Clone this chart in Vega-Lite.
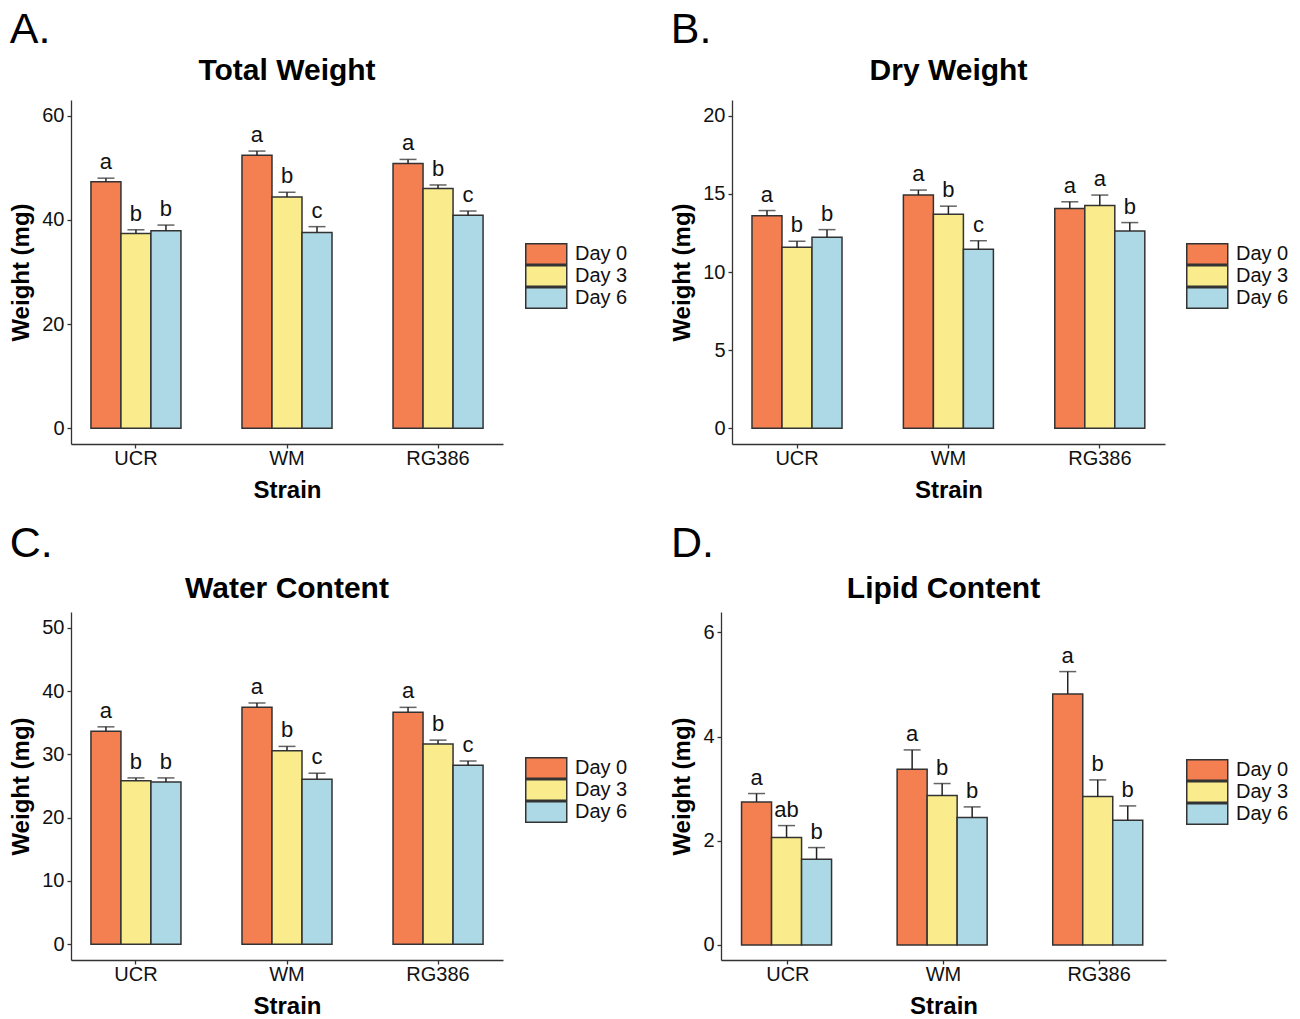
{
  "$schema": "https://vega.github.io/schema/vega-lite/v6.json",
  "padding": {"left": 9, "top": 9, "right": 5, "bottom": 5},
  "background": "white",
  "config": {
    "font": "Liberation Sans",
    "view": {"stroke": null},
    "axis": {"grid": false, "domainColor": "#333", "domainWidth": 1.3, "tickColor": "#333", "tickWidth": 1.3, "tickSize": 4, "labelFontSize": 20, "labelColor": "#111", "labelFont": "Liberation Sans", "titleFontSize": 24, "titleFontWeight": "bold", "titleColor": "#000", "titleFont": "Liberation Sans"},
    "axisX": {"labelAngle": 0, "labelPadding": 0, "titlePadding": 10},
    "axisY": {"labelPadding": 3, "titlePadding": 8},
    "title": {"font": "Liberation Sans", "color": "#000"},
    "legend": {"title": null, "orient": "none", "symbolType": "M-1,-1H3V1H-1Z", "symbolSize": 420, "symbolStrokeColor": "#333", "symbolStrokeWidth": 1.5, "symbolOpacity": 1, "labelFontSize": 20, "labelColor": "#111", "labelOffset": 28, "rowPadding": 0, "clipHeight": 22, "padding": 0}
  },
  "datasets": {
    "total": [
      {"Strain": "UCR", "Day": "Day 0", "mean": 47.3, "upper": 48.0, "letter": "a"},
      {"Strain": "UCR", "Day": "Day 3", "mean": 37.4, "upper": 38.1, "letter": "b"},
      {"Strain": "UCR", "Day": "Day 6", "mean": 37.9, "upper": 39.0, "letter": "b"},
      {"Strain": "WM", "Day": "Day 0", "mean": 52.4, "upper": 53.2, "letter": "a"},
      {"Strain": "WM", "Day": "Day 3", "mean": 44.4, "upper": 45.3, "letter": "b"},
      {"Strain": "WM", "Day": "Day 6", "mean": 37.6, "upper": 38.7, "letter": "c"},
      {"Strain": "RG386", "Day": "Day 0", "mean": 50.8, "upper": 51.6, "letter": "a"},
      {"Strain": "RG386", "Day": "Day 3", "mean": 46.0, "upper": 46.7, "letter": "b"},
      {"Strain": "RG386", "Day": "Day 6", "mean": 40.9, "upper": 41.7, "letter": "c"}
    ],
    "dry": [
      {"Strain": "UCR", "Day": "Day 0", "mean": 13.59, "upper": 13.93, "letter": "a"},
      {"Strain": "UCR", "Day": "Day 3", "mean": 11.58, "upper": 11.96, "letter": "b"},
      {"Strain": "UCR", "Day": "Day 6", "mean": 12.22, "upper": 12.71, "letter": "b"},
      {"Strain": "WM", "Day": "Day 0", "mean": 14.92, "upper": 15.24, "letter": "a"},
      {"Strain": "WM", "Day": "Day 3", "mean": 13.70, "upper": 14.21, "letter": "b"},
      {"Strain": "WM", "Day": "Day 6", "mean": 11.45, "upper": 12.00, "letter": "c"},
      {"Strain": "RG386", "Day": "Day 0", "mean": 14.06, "upper": 14.49, "letter": "a"},
      {"Strain": "RG386", "Day": "Day 3", "mean": 14.25, "upper": 14.92, "letter": "a"},
      {"Strain": "RG386", "Day": "Day 6", "mean": 12.63, "upper": 13.16, "letter": "b"}
    ],
    "water": [
      {"Strain": "UCR", "Day": "Day 0", "mean": 33.66, "upper": 34.35, "letter": "a"},
      {"Strain": "UCR", "Day": "Day 3", "mean": 25.81, "upper": 26.28, "letter": "b"},
      {"Strain": "UCR", "Day": "Day 6", "mean": 25.65, "upper": 26.28, "letter": "b"},
      {"Strain": "WM", "Day": "Day 0", "mean": 37.43, "upper": 38.12, "letter": "a"},
      {"Strain": "WM", "Day": "Day 3", "mean": 30.58, "upper": 31.26, "letter": "b"},
      {"Strain": "WM", "Day": "Day 6", "mean": 26.07, "upper": 27.02, "letter": "c"},
      {"Strain": "RG386", "Day": "Day 0", "mean": 36.65, "upper": 37.43, "letter": "a"},
      {"Strain": "RG386", "Day": "Day 3", "mean": 31.62, "upper": 32.25, "letter": "b"},
      {"Strain": "RG386", "Day": "Day 6", "mean": 28.27, "upper": 28.95, "letter": "c"}
    ],
    "lipid": [
      {"Strain": "UCR", "Day": "Day 0", "mean": 2.745, "upper": 2.905, "letter": "a"},
      {"Strain": "UCR", "Day": "Day 3", "mean": 2.06, "upper": 2.29, "letter": "ab"},
      {"Strain": "UCR", "Day": "Day 6", "mean": 1.644, "upper": 1.868, "letter": "b"},
      {"Strain": "WM", "Day": "Day 0", "mean": 3.372, "upper": 3.743, "letter": "a"},
      {"Strain": "WM", "Day": "Day 3", "mean": 2.866, "upper": 3.097, "letter": "b"},
      {"Strain": "WM", "Day": "Day 6", "mean": 2.444, "upper": 2.649, "letter": "b"},
      {"Strain": "RG386", "Day": "Day 0", "mean": 4.818, "upper": 5.246, "letter": "a"},
      {"Strain": "RG386", "Day": "Day 3", "mean": 2.847, "upper": 3.167, "letter": "b"},
      {"Strain": "RG386", "Day": "Day 6", "mean": 2.393, "upper": 2.668, "letter": "b"}
    ]
  },
  "resolve": {"scale": {"color": "independent"}, "legend": {"color": "independent"}},
  "spacing": 21,
  "vconcat": [
    {
      "resolve": {"scale": {"color": "independent"}, "legend": {"color": "independent"}},
      "spacing": 42,
      "hconcat": [
        {
          "title": {"text": "A.", "anchor": "start", "frame": "bounds", "fontSize": 43, "fontWeight": "normal", "offset": 4},
          "resolve": {"scale": {"color": "independent"}, "legend": {"color": "independent"}},
          "vconcat": [
            {
              "width": 432, "height": 344,
              "title": {"text": "Total Weight", "fontSize": 30, "fontWeight": "bold", "offset": 14},
              "data": {"name": "total"},
              "encoding": {
                "x": {"field": "Strain", "type": "nominal", "sort": ["UCR", "WM", "RG386"], "title": "Strain", "scale": {"paddingInner": 0.404, "paddingOuter": 0.132}},
                "xOffset": {"field": "Day", "type": "nominal", "sort": ["Day 0", "Day 3", "Day 6"], "scale": {"paddingInner": 0, "paddingOuter": 0}}
              },
              "layer": [
                {"mark": {"type": "bar", "stroke": "#333", "strokeWidth": 1.5},
                 "encoding": {"y": {"field": "mean", "type": "quantitative", "title": "Weight (mg)", "scale": {"domain": [-3, 63], "nice": false, "zero": false}, "axis": {"values": [0, 20, 40, 60]}}, "y2": {"datum": 0},
                   "color": {"field": "Day", "type": "nominal", "scale": {"domain": ["Day 0", "Day 3", "Day 6"], "range": ["#F47F51", "#FAEC8C", "#ADD8E6"]}, "legend": {"legendX": 454, "legendY": 143}}}},
                {"mark": {"type": "rule", "color": "#222", "strokeWidth": 1.5}, "encoding": {"y": {"field": "mean", "type": "quantitative"}, "y2": {"field": "upper"}}},
                {"mark": {"type": "tick", "orient": "horizontal", "size": 17, "thickness": 1.5, "color": "#222"}, "encoding": {"y": {"field": "upper", "type": "quantitative"}}},
                {"mark": {"type": "text", "baseline": "alphabetic", "dy": -9, "fontSize": 22, "color": "#111"}, "encoding": {"y": {"field": "upper", "type": "quantitative"}, "text": {"field": "letter"}}}
              ]
            }
          ]
        },
        {
          "title": {"text": "B.", "anchor": "start", "frame": "bounds", "fontSize": 43, "fontWeight": "normal", "offset": 4},
          "resolve": {"scale": {"color": "independent"}, "legend": {"color": "independent"}},
          "vconcat": [
            {
              "width": 433, "height": 344,
              "title": {"text": "Dry Weight", "fontSize": 30, "fontWeight": "bold", "offset": 14},
              "data": {"name": "dry"},
              "encoding": {
                "x": {"field": "Strain", "type": "nominal", "sort": ["UCR", "WM", "RG386"], "title": "Strain", "scale": {"paddingInner": 0.404, "paddingOuter": 0.132}},
                "xOffset": {"field": "Day", "type": "nominal", "sort": ["Day 0", "Day 3", "Day 6"], "scale": {"paddingInner": 0, "paddingOuter": 0}}
              },
              "layer": [
                {"mark": {"type": "bar", "stroke": "#333", "strokeWidth": 1.5},
                 "encoding": {"y": {"field": "mean", "type": "quantitative", "title": "Weight (mg)", "scale": {"domain": [-1, 21], "nice": false, "zero": false}, "axis": {"values": [0, 5, 10, 15, 20]}}, "y2": {"datum": 0},
                   "color": {"field": "Day", "type": "nominal", "scale": {"domain": ["Day 0", "Day 3", "Day 6"], "range": ["#F47F51", "#FAEC8C", "#ADD8E6"]}, "legend": {"legendX": 454, "legendY": 143}}}},
                {"mark": {"type": "rule", "color": "#222", "strokeWidth": 1.5}, "encoding": {"y": {"field": "mean", "type": "quantitative"}, "y2": {"field": "upper"}}},
                {"mark": {"type": "tick", "orient": "horizontal", "size": 17, "thickness": 1.5, "color": "#222"}, "encoding": {"y": {"field": "upper", "type": "quantitative"}}},
                {"mark": {"type": "text", "baseline": "alphabetic", "dy": -9, "fontSize": 22, "color": "#111"}, "encoding": {"y": {"field": "upper", "type": "quantitative"}, "text": {"field": "letter"}}}
              ]
            }
          ]
        }
      ]
    },
    {
      "resolve": {"scale": {"color": "independent"}, "legend": {"color": "independent"}},
      "spacing": 42,
      "hconcat": [
        {
          "title": {"text": "C.", "anchor": "start", "frame": "bounds", "fontSize": 43, "fontWeight": "normal", "offset": 8},
          "resolve": {"scale": {"color": "independent"}, "legend": {"color": "independent"}},
          "vconcat": [
            {
              "width": 432, "height": 348,
              "title": {"text": "Water Content", "fontSize": 30, "fontWeight": "bold", "offset": 8},
              "data": {"name": "water"},
              "encoding": {
                "x": {"field": "Strain", "type": "nominal", "sort": ["UCR", "WM", "RG386"], "title": "Strain", "scale": {"paddingInner": 0.404, "paddingOuter": 0.132}},
                "xOffset": {"field": "Day", "type": "nominal", "sort": ["Day 0", "Day 3", "Day 6"], "scale": {"paddingInner": 0, "paddingOuter": 0}}
              },
              "layer": [
                {"mark": {"type": "bar", "stroke": "#333", "strokeWidth": 1.5},
                 "encoding": {"y": {"field": "mean", "type": "quantitative", "title": "Weight (mg)", "scale": {"domain": [-2.5, 52.5], "nice": false, "zero": false}, "axis": {"values": [0, 10, 20, 30, 40, 50]}}, "y2": {"datum": 0},
                   "color": {"field": "Day", "type": "nominal", "scale": {"domain": ["Day 0", "Day 3", "Day 6"], "range": ["#F47F51", "#FAEC8C", "#ADD8E6"]}, "legend": {"legendX": 454, "legendY": 145}}}},
                {"mark": {"type": "rule", "color": "#222", "strokeWidth": 1.5}, "encoding": {"y": {"field": "mean", "type": "quantitative"}, "y2": {"field": "upper"}}},
                {"mark": {"type": "tick", "orient": "horizontal", "size": 17, "thickness": 1.5, "color": "#222"}, "encoding": {"y": {"field": "upper", "type": "quantitative"}}},
                {"mark": {"type": "text", "baseline": "alphabetic", "dy": -9, "fontSize": 22, "color": "#111"}, "encoding": {"y": {"field": "upper", "type": "quantitative"}, "text": {"field": "letter"}}}
              ]
            }
          ]
        },
        {
          "title": {"text": "D.", "anchor": "start", "frame": "bounds", "fontSize": 43, "fontWeight": "normal", "offset": 8},
          "resolve": {"scale": {"color": "independent"}, "legend": {"color": "independent"}},
          "vconcat": [
            {
              "width": 445, "height": 348,
              "title": {"text": "Lipid Content", "fontSize": 30, "fontWeight": "bold", "offset": 8},
              "data": {"name": "lipid"},
              "encoding": {
                "x": {"field": "Strain", "type": "nominal", "sort": ["UCR", "WM", "RG386"], "title": "Strain", "scale": {"paddingInner": 0.404, "paddingOuter": 0.132}},
                "xOffset": {"field": "Day", "type": "nominal", "sort": ["Day 0", "Day 3", "Day 6"], "scale": {"paddingInner": 0, "paddingOuter": 0}}
              },
              "layer": [
                {"mark": {"type": "bar", "stroke": "#333", "strokeWidth": 1.5},
                 "encoding": {"y": {"field": "mean", "type": "quantitative", "title": "Weight (mg)", "scale": {"domain": [-0.29, 6.39], "nice": false, "zero": false}, "axis": {"values": [0, 2, 4, 6]}}, "y2": {"datum": 0},
                   "color": {"field": "Day", "type": "nominal", "scale": {"domain": ["Day 0", "Day 3", "Day 6"], "range": ["#F47F51", "#FAEC8C", "#ADD8E6"]}, "legend": {"legendX": 465, "legendY": 147}}}},
                {"mark": {"type": "rule", "color": "#222", "strokeWidth": 1.5}, "encoding": {"y": {"field": "mean", "type": "quantitative"}, "y2": {"field": "upper"}}},
                {"mark": {"type": "tick", "orient": "horizontal", "size": 17, "thickness": 1.5, "color": "#222"}, "encoding": {"y": {"field": "upper", "type": "quantitative"}}},
                {"mark": {"type": "text", "baseline": "alphabetic", "dy": -9, "fontSize": 22, "color": "#111"}, "encoding": {"y": {"field": "upper", "type": "quantitative"}, "text": {"field": "letter"}}}
              ]
            }
          ]
        }
      ]
    }
  ]
}
